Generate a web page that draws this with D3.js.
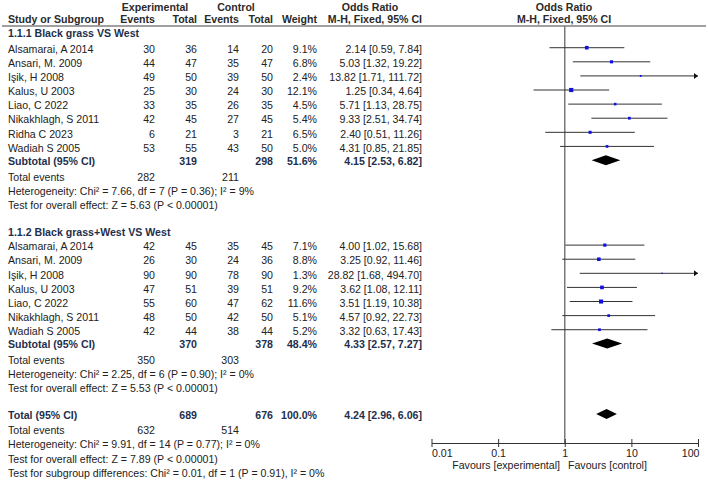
<!DOCTYPE html>
<html>
<head>
<meta charset="utf-8">
<script src="https://cdn.jsdelivr.net/npm/d3@7"></script>
<style>
  body { margin: 0; background: #fff; }
  svg text { font-family: "Liberation Sans", Arial, sans-serif; font-size: 10.6px; }
</style>
</head>
<body>
<div id="chart"></div>
<script>
// data
const group1Title = "1.1.1 Black grass VS West"
const group1Studies = ["Alsamarai, A 2014", "Ansari, M. 2009", "Işik, H 2008", "Kalus, U 2003", "Liao, C 2022", "Nikakhlagh, S 2011", "Ridha C 2023", "Wadiah S 2005"]
const group1ExpEvents = [30, 44, 49, 25, 33, 42, 6, 53]
const group1ExpTotal = [36, 47, 50, 30, 35, 45, 21, 55]
const group1CtlEvents = [14, 35, 39, 24, 26, 27, 3, 43]
const group1CtlTotal = [20, 47, 50, 30, 35, 45, 21, 50]
const group1Weight = [9.1, 6.8, 2.4, 12.1, 4.5, 5.4, 6.5, 5.0]
const group1OR = [2.14, 5.03, 13.82, 1.25, 5.71, 9.33, 2.40, 4.31]
const group1Low = [0.59, 1.32, 1.71, 0.34, 1.13, 2.51, 0.51, 0.85]
const group1High = [7.84, 19.22, 111.72, 4.64, 28.75, 34.74, 11.26, 21.85]
const group1Sub = { exp: 319, ctl: 298, weight: 51.6, or: 4.15, lo: 2.53, hi: 6.82, expEv: 282, ctlEv: 211,
  het: "Heterogeneity: Chi² = 7.66, df = 7 (P = 0.36); I² = 9%",
  test: "Test for overall effect: Z = 5.63 (P < 0.00001)" }

const group2Title = "1.1.2 Black grass+West VS West"
const group2Studies = ["Alsamarai, A 2014", "Ansari, M. 2009", "Işik, H 2008", "Kalus, U 2003", "Liao, C 2022", "Nikakhlagh, S 2011", "Wadiah S 2005"]
const group2ExpEvents = [42, 26, 90, 47, 55, 48, 42]
const group2ExpTotal = [45, 30, 90, 51, 60, 50, 44]
const group2CtlEvents = [35, 24, 78, 39, 47, 42, 38]
const group2CtlTotal = [45, 36, 90, 51, 62, 50, 44]
const group2Weight = [7.1, 8.8, 1.3, 9.2, 11.6, 5.1, 5.2]
const group2OR = [4.00, 3.25, 28.82, 3.62, 3.51, 4.57, 3.32]
const group2Low = [1.02, 0.92, 1.68, 1.08, 1.19, 0.92, 0.63]
const group2High = [15.68, 11.46, 494.70, 12.11, 10.38, 22.73, 17.43]
const group2Sub = { exp: 370, ctl: 378, weight: 48.4, or: 4.33, lo: 2.57, hi: 7.27, expEv: 350, ctlEv: 303,
  het: "Heterogeneity: Chi² = 2.25, df = 6 (P = 0.90); I² = 0%",
  test: "Test for overall effect: Z = 5.53 (P < 0.00001)" }

const overall = { exp: 689, ctl: 676, weight: 100.0, or: 4.24, lo: 2.96, hi: 6.06, expEv: 632, ctlEv: 514,
  het: "Heterogeneity: Chi² = 9.91, df = 14 (P = 0.77); I² = 0%",
  test: "Test for overall effect: Z = 7.89 (P < 0.00001)",
  subgroup: "Test for subgroup differences: Chi² = 0.01, df = 1 (P = 0.91), I² = 0%" }

const axisTicks = [0.01, 0.1, 1, 10, 100]
const axisTickLabels = ["0.01", "0.1", "1", "10", "100"]

const width = 708, height = 480
const navy = "#1e2f4d", ink = "#222", headInk = "#2a2a2a"

const svg = d3.select("#chart").append("svg")
  .attr("width", width).attr("height", height)

// scales
const x = d3.scaleLog().domain([0.01, 100]).range([431.5, 698])
const y = d3.scaleLinear().domain([0, 1]).range([33, 47.1]) // one row per unit

// column right edges for the table
const col = { study: 8, expEv: 155, expTot: 197, ctlEv: 239, ctlTot: 273, weight: 317, or: 422 }

function txt(xp, r, s, opt = {}) {
  return svg.append("text")
    .attr("x", xp).attr("y", y(r)).attr("dy", "0.35em")
    .attr("text-anchor", opt.anchor || "start")
    .attr("font-weight", opt.bold ? "bold" : "normal")
    .attr("fill", opt.color || ink)
    .text(s)
}
const fmt2 = d3.format(".2f")
const ciText = (o, l, h) => `${fmt2(o)} [${fmt2(l)}, ${fmt2(h)}]`

// header
const hdr1 = [[155, "Experimental"], [236, "Control"], [370, "Odds Ratio"], [564, "Odds Ratio"]]
hdr1.forEach(h => {
  svg.append("text").attr("x", h[0]).attr("y", 7).attr("dy", "0.35em").attr("text-anchor", "middle")
    .attr("font-weight", "bold").attr("fill", headInk).text(h[1])
})
const hdr2 = [
  [col.study, "Study or Subgroup", "start"], [col.expEv, "Events", "end"], [col.expTot, "Total", "end"],
  [col.ctlEv, "Events", "end"], [col.ctlTot, "Total", "end"], [col.weight, "Weight", "end"],
  [col.or, "M-H, Fixed, 95% CI", "end"], [564, "M-H, Fixed, 95% CI", "middle"]
]
hdr2.forEach(h => {
  svg.append("text").attr("x", h[0]).attr("y", 19.5).attr("dy", "0.35em").attr("text-anchor", h[2])
    .attr("font-weight", "bold").attr("fill", headInk).text(h[1])
})
svg.append("line").attr("x1", 2).attr("x2", 706).attr("y1", 26).attr("y2", 26)
  .attr("stroke", "#808080").attr("stroke-width", 1.5)

// zero effect line
svg.append("line").attr("x1", x(1)).attr("x2", x(1)).attr("y1", 26).attr("y2", 443)
  .attr("stroke", "#7a7a7a").attr("stroke-width", 1.5)

const plot = svg.append("g")

function drawStudy(r, name, ee, et, ce, ct, w, o, l, h) {
  txt(col.study, r, name)
  txt(col.expEv, r, ee, { anchor: "end" })
  txt(col.expTot, r, et, { anchor: "end" })
  txt(col.ctlEv, r, ce, { anchor: "end" })
  txt(col.ctlTot, r, ct, { anchor: "end" })
  txt(col.weight, r, w.toFixed(1) + "%", { anchor: "end" })
  txt(col.or, r, ciText(o, l, h), { anchor: "end" })

  const cy = y(r) - 1.5
  const hiClip = Math.min(h, 100)
  plot.append("line").attr("x1", x(l)).attr("x2", x(hiClip)).attr("y1", cy).attr("y2", cy)
    .attr("stroke", "#333").attr("stroke-width", 1)
  if (h > 100) {
    const xe = x(100)
    plot.append("path").attr("d", `M${xe - 4},${cy - 3}L${xe},${cy}L${xe - 4},${cy + 3}Z`).attr("fill", "#111")
  }
  const s = 1.2 * Math.sqrt(w)
  plot.append("rect").attr("x", x(o) - s / 2).attr("y", cy - s / 2).attr("width", s).attr("height", s)
    .attr("fill", "#1010e0")
}

function drawDiamond(r, o, l, h) {
  const cy = y(r) - 1
  plot.append("path")
    .attr("d", `M${x(l)},${cy}L${x(o)},${cy - 5}L${x(h)},${cy}L${x(o)},${cy + 5}Z`)
    .attr("fill", "#000")
}

function drawSummary(r, label, s) {
  txt(col.study, r, label, { bold: true, color: navy })
  txt(col.expTot, r, s.exp, { bold: true, color: navy, anchor: "end" })
  txt(col.ctlTot, r, s.ctl, { bold: true, color: navy, anchor: "end" })
  txt(col.weight, r, s.weight.toFixed(1) + "%", { bold: true, color: navy, anchor: "end" })
  txt(col.or, r, ciText(s.or, s.lo, s.hi), { bold: true, color: navy, anchor: "end" })
  drawDiamond(r, s.or, s.lo, s.hi)
  txt(col.study, r + 1.1, "Total events")
  txt(col.expEv, r + 1.1, s.expEv, { anchor: "end" })
  txt(col.ctlEv, r + 1.1, s.ctlEv, { anchor: "end" })
  txt(col.study, r + 2.1, s.het)
  txt(col.study, r + 3.1, s.test)
}

// group 1
txt(col.study, 0, group1Title, { bold: true, color: navy })
group1Studies.forEach((n, i) => drawStudy(1.15 + i, n, group1ExpEvents[i], group1ExpTotal[i],
  group1CtlEvents[i], group1CtlTotal[i], group1Weight[i], group1OR[i], group1Low[i], group1High[i]))
drawSummary(9.1, "Subtotal (95% CI)", group1Sub)

// group 2
txt(col.study, 14.1, group2Title, { bold: true, color: navy })
group2Studies.forEach((n, i) => drawStudy(15.15 + i, n, group2ExpEvents[i], group2ExpTotal[i],
  group2CtlEvents[i], group2CtlTotal[i], group2Weight[i], group2OR[i], group2Low[i], group2High[i]))
drawSummary(22.1, "Subtotal (95% CI)", group2Sub)

// overall
drawSummary(27.1, "Total (95% CI)", overall)
txt(col.study, 31.2, overall.subgroup)

// axis
const axisG = svg.append("g").attr("transform", "translate(0,443)")
  .call(d3.axisBottom(x).tickValues(axisTicks).tickSizeOuter(0)
    .tickFormat((d, i) => axisTickLabels[i]))
axisG.select(".domain").attr("stroke", "#333")
axisG.selectAll(".tick line").attr("y1", -4).attr("y2", 4).attr("stroke", "#333")
axisG.selectAll(".tick text")
  .attr("y", 6).attr("fill", ink)
  .style("font-family", "Liberation Sans, Arial, sans-serif").style("font-size", "10.6px")
  .attr("text-anchor", (d, i) => i === 0 ? "start" : (i === axisTicks.length - 1 ? "end" : "middle"))
  .attr("dx", (d, i) => i === axisTicks.length - 1 ? 1 : 0)

svg.append("text").attr("x", 560).attr("y", 465).attr("dy", "0.35em").attr("text-anchor", "end")
  .attr("fill", ink).text("Favours [experimental]")
svg.append("text").attr("x", 568).attr("y", 465).attr("dy", "0.35em").attr("text-anchor", "start")
  .attr("fill", ink).text("Favours [control]")
</script>
</body>
</html>
